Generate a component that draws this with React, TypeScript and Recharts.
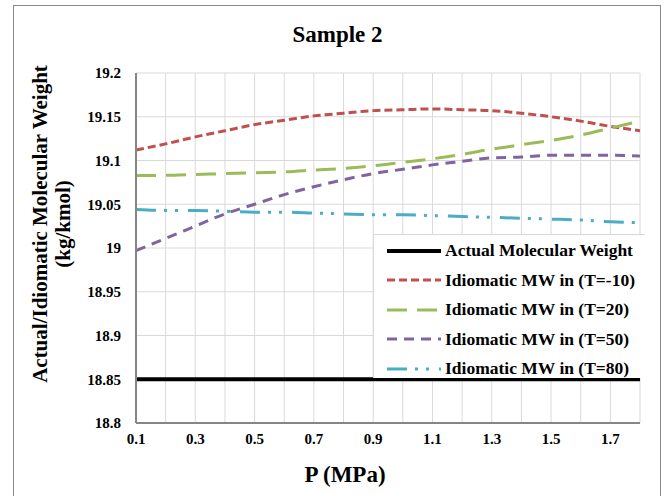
import { LineChart, Line, XAxis, YAxis, CartesianGrid } from 'recharts'

const pressures = [0.1, 0.2, 0.3, 0.4, 0.5, 0.6, 0.7, 0.8, 0.9, 1.0, 1.1, 1.2, 1.3, 1.4, 1.5, 1.6, 1.7, 1.8]

const actualMW = [18.85, 18.85, 18.85, 18.85, 18.85, 18.85, 18.85, 18.85, 18.85, 18.85, 18.85, 18.85, 18.85, 18.85, 18.85, 18.85, 18.85, 18.85]
const mwTm10 = [19.112, 19.119, 19.127, 19.134, 19.141, 19.146, 19.151, 19.154, 19.157, 19.158, 19.159, 19.158, 19.157, 19.154, 19.15, 19.145, 19.139, 19.134]
const mwT20 = [19.083, 19.083, 19.084, 19.085, 19.086, 19.087, 19.089, 19.091, 19.094, 19.098, 19.102, 19.107, 19.113, 19.118, 19.123, 19.129, 19.137, 19.145]
const mwT50 = [18.997, 19.011, 19.025, 19.039, 19.05, 19.061, 19.07, 19.078, 19.085, 19.09, 19.095, 19.099, 19.103, 19.104, 19.106, 19.106, 19.106, 19.105]
const mwT80 = [19.044, 19.043, 19.043, 19.042, 19.041, 19.041, 19.04, 19.039, 19.038, 19.038, 19.037, 19.036, 19.035, 19.034, 19.033, 19.032, 19.03, 19.029]

const yTicks = [18.8, 18.85, 18.9, 18.95, 19, 19.05, 19.1, 19.15, 19.2]

const series = [
  { key: 'actual', name: 'Actual Molecular Weight', values: actualMW, color: '#000000', dash: undefined, width: 4 },
  { key: 'tm10', name: 'Idiomatic MW in (T=-10)', values: mwTm10, color: '#C0504D', dash: '8 4', width: 3 },
  { key: 't20', name: 'Idiomatic MW in (T=20)', values: mwT20, color: '#9BBB59', dash: '20 10', width: 3 },
  { key: 't50', name: 'Idiomatic MW in (T=50)', values: mwT50, color: '#8064A2', dash: '10 7', width: 3 },
  { key: 't80', name: 'Idiomatic MW in (T=80)', values: mwT80, color: '#4BACC6', dash: '20 8 3 8 3 10', width: 3 },
]

const data = pressures.map((p, i) => {
  const row: Record<string, number | string> = { p: p.toFixed(1) }
  series.forEach((s) => { row[s.key] = s.values[i] })
  return row
})

const serif = '"Liberation Serif", "Times New Roman", serif'
const tickStyle = { fontSize: 15, fontWeight: 700, fill: '#000', fontFamily: serif }

// legend drawn as an overlay so it doesn't shrink the plot
function LegendBox() {
  return (
    <div
      style={{
        position: 'absolute',
        left: 373,
        top: 234,
        width: 272,
        height: 144,
        background: '#fff',
        borderLeft: '1px solid #D9D9D9',
        borderTop: '1px solid #D9D9D9',
        boxSizing: 'border-box',
        paddingTop: 1,
      }}
    >
      {series.map((s) => (
        <div key={s.key} style={{ display: 'flex', alignItems: 'center', height: 29.5 }}>
          <svg width={71} height={10} style={{ flex: 'none' }}>
            <line
              x1={13}
              x2={67}
              y1={5}
              y2={5}
              stroke={s.color}
              strokeWidth={s.width}
              strokeDasharray={s.dash}
            />
          </svg>
          <span style={{ fontFamily: serif, fontWeight: 700, fontSize: 17.5, color: '#000', whiteSpace: 'nowrap' }}>
            {s.name}
          </span>
        </div>
      ))}
    </div>
  )
}

export default function App() {
  return (
    <div style={{ position: 'absolute', left: 0, top: 0, width: 665, height: 496, overflow: 'hidden', background: '#fff' }}>
      <div
        style={{
          position: 'absolute',
          left: 13,
          top: 5,
          width: 648,
          height: 520,
          border: '1px solid #888',
          boxSizing: 'border-box',
        }}
      />
      <div
        style={{
          position: 'absolute',
          left: 0,
          width: 675,
          top: 20,
          textAlign: 'center',
          fontFamily: serif,
          fontWeight: 700,
          fontSize: 23,
          lineHeight: '30px',
        }}
      >
        Sample 2
      </div>
      <div
        style={{
          position: 'absolute',
          left: 52 - 200,
          top: 224 - 23,
          width: 400,
          height: 46,
          textAlign: 'center',
          fontFamily: serif,
          fontWeight: 700,
          fontSize: 21,
          lineHeight: '23px',
          transform: 'rotate(-90deg)',
        }}
      >
        Actual/Idiomatic Molecular Weight
        <br />
        (kg/kmol)
      </div>
      <div
        style={{
          position: 'absolute',
          left: 245,
          width: 200,
          top: 460,
          textAlign: 'center',
          fontFamily: serif,
          fontWeight: 700,
          fontSize: 23,
          lineHeight: '30px',
        }}
      >
        P (MPa)
      </div>
      <div style={{ position: 'absolute', left: 0, top: 0 }}>
        <LineChart width={665} height={496} data={data} margin={{ top: 73, right: 25, bottom: 43, left: 76 }}>
          <CartesianGrid stroke="#D9D9D9" strokeWidth={1} />
          <XAxis
            dataKey="p"
            height={30}
            interval={0}
            tickLine={false}
            tickSize={0}
            tickMargin={10}
            axisLine={{ stroke: '#868686', strokeWidth: 2 }}
            tick={tickStyle}
            tickFormatter={(v: string, i: number) => (i % 2 === 0 ? v : '')}
          />
          <YAxis
            width={60}
            domain={[18.8, 19.2]}
            ticks={yTicks}
            interval={0}
            tickLine={false}
            tickSize={0}
            tickMargin={15}
            axisLine={{ stroke: '#868686', strokeWidth: 2 }}
            tick={tickStyle}
            tickFormatter={(v: number) => String(Number(v.toFixed(2)))}
          />
          {series.map((s) => (
            <Line
              key={s.key}
              dataKey={s.key}
              name={s.name}
              type="monotone"
              stroke={s.color}
              strokeWidth={s.width}
              strokeDasharray={s.dash}
              dot={false}
              activeDot={false}
              isAnimationActive={false}
            />
          ))}
        </LineChart>
      </div>
      <LegendBox />
    </div>
  )
}
